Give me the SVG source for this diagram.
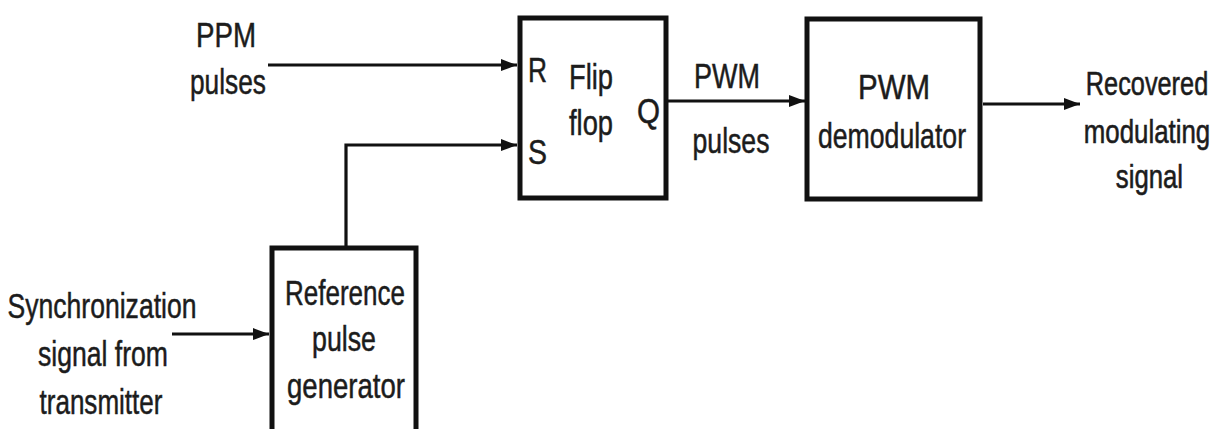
<svg xmlns="http://www.w3.org/2000/svg" width="1220" height="429" viewBox="0 0 1220 429">
<defs>
<style>
.box{fill:#fff;stroke:#111;stroke-width:5}
.ln{fill:none;stroke:#111;stroke-width:3.2}
text{font-family:"Liberation Sans Narrow","Liberation Sans",Arial,sans-serif;font-size:35px;fill:#1c1c1c;stroke:#1c1c1c;stroke-width:0.5}
.c{text-anchor:middle}
.o{font-size:34px;stroke-width:0.6}
</style>
<marker id="ah" viewBox="0 0 16 12" refX="16" refY="6" markerWidth="16" markerHeight="12" markerUnits="userSpaceOnUse" orient="auto">
<path d="M0,0 L16,6 L0,12 Z" fill="#111"/>
</marker>
</defs>
<rect width="1220" height="429" fill="#fff"/>
<g id="connectors">
<line class="ln" x1="268" y1="65" x2="517" y2="65" marker-end="url(#ah)"/>
<polyline class="ln" points="346,246 346,145 517,145" marker-end="url(#ah)"/>
<line class="ln" x1="668" y1="101" x2="805" y2="101" marker-end="url(#ah)"/>
<line class="ln" x1="983" y1="104" x2="1080" y2="104" marker-end="url(#ah)"/>
<line class="ln" x1="172" y1="334" x2="269" y2="334" marker-end="url(#ah)"/>
</g>
<g id="ppm-label">
<text class="c" x="226" y="47" textLength="60" lengthAdjust="spacingAndGlyphs">PPM</text>
<text class="c" x="228" y="94" textLength="76" lengthAdjust="spacingAndGlyphs">pulses</text>
</g>
<g id="flipflop">
<rect class="box" x="520" y="18" width="146" height="180"/>
<text x="528" y="82" textLength="19" lengthAdjust="spacingAndGlyphs">R</text>
<text x="528" y="164" textLength="19" lengthAdjust="spacingAndGlyphs">S</text>
<text x="569" y="89" textLength="44" lengthAdjust="spacingAndGlyphs">Flip</text>
<text x="569" y="135" textLength="44" lengthAdjust="spacingAndGlyphs">flop</text>
<text x="637" y="123" textLength="23" lengthAdjust="spacingAndGlyphs">Q</text>
</g>
<g id="pwm-label">
<text class="c" x="727" y="88" textLength="66" lengthAdjust="spacingAndGlyphs">PWM</text>
<text class="c" x="731" y="153" textLength="77" lengthAdjust="spacingAndGlyphs">pulses</text>
</g>
<g id="pwm-demodulator">
<rect class="box" x="807" y="19" width="173" height="180"/>
<text class="c" x="894" y="99" textLength="72" lengthAdjust="spacingAndGlyphs">PWM</text>
<text class="c" x="892" y="148" textLength="148" lengthAdjust="spacingAndGlyphs">demodulator</text>
</g>
<g id="output-label" transform="translate(1147 0) scale(0.8 1)">
<text class="c o" x="0" y="95" textLength="153" lengthAdjust="spacingAndGlyphs">Recovered</text>
<text class="c o" x="0" y="143" textLength="158" lengthAdjust="spacingAndGlyphs">modulating</text>
<text class="c o" x="3" y="188" textLength="84" lengthAdjust="spacingAndGlyphs">signal</text>
</g>
<g id="reference-pulse-generator">
<rect class="box" x="272" y="248" width="144" height="190"/>
<text class="c" x="345" y="305" textLength="120" lengthAdjust="spacingAndGlyphs">Reference</text>
<text class="c" x="344" y="351" textLength="64" lengthAdjust="spacingAndGlyphs">pulse</text>
<text class="c" x="346" y="398" textLength="118" lengthAdjust="spacingAndGlyphs">generator</text>
</g>
<g id="sync-label">
<text class="c" x="102" y="318" textLength="189" lengthAdjust="spacingAndGlyphs">Synchronization</text>
<text class="c" x="103" y="366" textLength="130" lengthAdjust="spacingAndGlyphs">signal from</text>
<text class="c" x="101" y="414" textLength="123" lengthAdjust="spacingAndGlyphs">transmitter</text>
</g>
</svg>
